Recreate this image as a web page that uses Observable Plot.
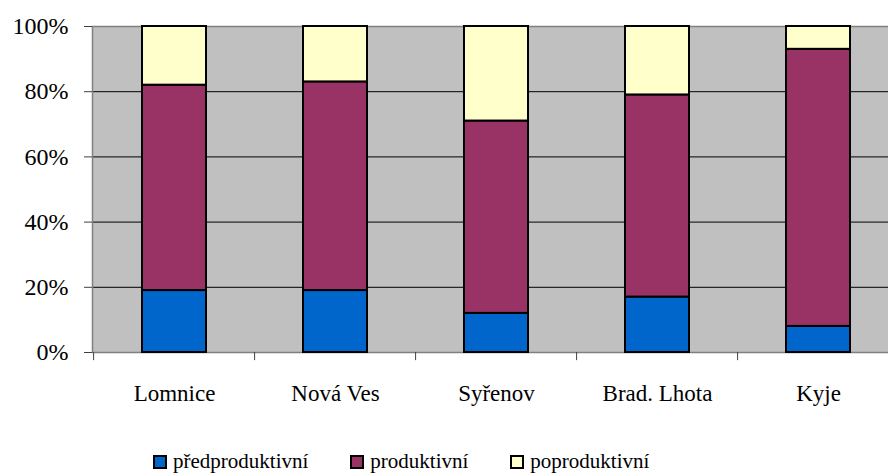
<!DOCTYPE html>
<html>
<head>
<meta charset="utf-8">
<script src="https://cdn.jsdelivr.net/npm/d3@7"></script>
<script src="https://cdn.jsdelivr.net/npm/@observablehq/plot@0.6"></script>
<style>
  html, body { margin: 0; padding: 0; background: #fff; }
  #wrap { position: relative; width: 888px; height: 473px; overflow: hidden; font-family: "Liberation Serif", "DejaVu Serif", serif; }
  #wrap svg text { font-family: "Liberation Serif", "DejaVu Serif", serif; }
  #legend { position: absolute; left: 153px; top: 449px; display: flex; gap: 42px; font-size: 21px; color: #000; align-items: center; }
  .item { display: flex; align-items: center; }
  .sw { width: 10px; height: 10px; border: 2px solid #000; margin-right: 6px; box-sizing: content-box; }
</style>
</head>
<body>
<div id="wrap"><div id="chart"></div><div id="legend"></div></div>
<script>
const categories = ["Lomnice", "Nová Ves", "Syřenov", "Brad. Lhota", "Kyje"];
const seriesNames = ["předproduktivní", "produktivní", "poproduktivní"];
const seriesColors = ["#0066CC", "#993366", "#FFFFCC"];
const predproduktivni = [19, 19, 12, 17, 8];
const produktivni = [63, 64, 59, 62, 85];
const poproduktivni = [18, 17, 29, 21, 7];
const yTicks = [0, 20, 40, 60, 80, 100];
const gridTicks = [20, 40, 60, 80];

const seriesValues = [predproduktivni, produktivni, poproduktivni];
const rows = [];
categories.forEach((c, i) => {
  seriesNames.forEach((s, j) => rows.push({category: c, series: s, value: seriesValues[j][i]}));
});

const width = 888, marginLeft = 92, marginRight = -13;
const step = (width - marginRight - marginLeft) / categories.length;

const chart = Plot.plot({
  width,
  height: 415,
  marginTop: 26,
  marginBottom: 63,
  marginLeft,
  marginRight,
  style: {fontFamily: '"Liberation Serif", "DejaVu Serif", serif', background: "transparent", color: "#000"},
  x: {domain: categories, paddingInner: 0.6, paddingOuter: 0.3, label: null},
  y: {domain: [0, 100], label: null},
  color: {domain: seriesNames, range: seriesColors},
  marks: [
    Plot.frame({fill: "#C0C0C0", stroke: null}),
    Plot.gridY(gridTicks, {stroke: "#000", strokeOpacity: 1, strokeWidth: 1}),
    Plot.frame({stroke: "#808080", strokeWidth: 1.5}),
    Plot.ruleX(categories, {x: d => d, y1: 0, y2: -2.5, dx: -step / 2, stroke: "#404040", strokeWidth: 1}),
    Plot.barY(rows, {x: "category", y: "value", fill: "series", stroke: "#000", strokeWidth: 2, order: seriesNames}),
    Plot.axisY(yTicks, {tickFormat: d => d + "%", tickSize: 8, tickPadding: 16, fontSize: 24, stroke: "#404040"}),
    Plot.axisX({tickSize: 0, tickPadding: 32, fontSize: 23})
  ]
});
document.getElementById("chart").appendChild(chart);

const legend = document.getElementById("legend");
seriesNames.forEach((s, i) => {
  const item = document.createElement("div");
  item.className = "item";
  const sw = document.createElement("span");
  sw.className = "sw";
  sw.style.background = seriesColors[i];
  const t = document.createElement("span");
  t.textContent = s;
  item.appendChild(sw);
  item.appendChild(t);
  legend.appendChild(item);
});
</script>
</body>
</html>
